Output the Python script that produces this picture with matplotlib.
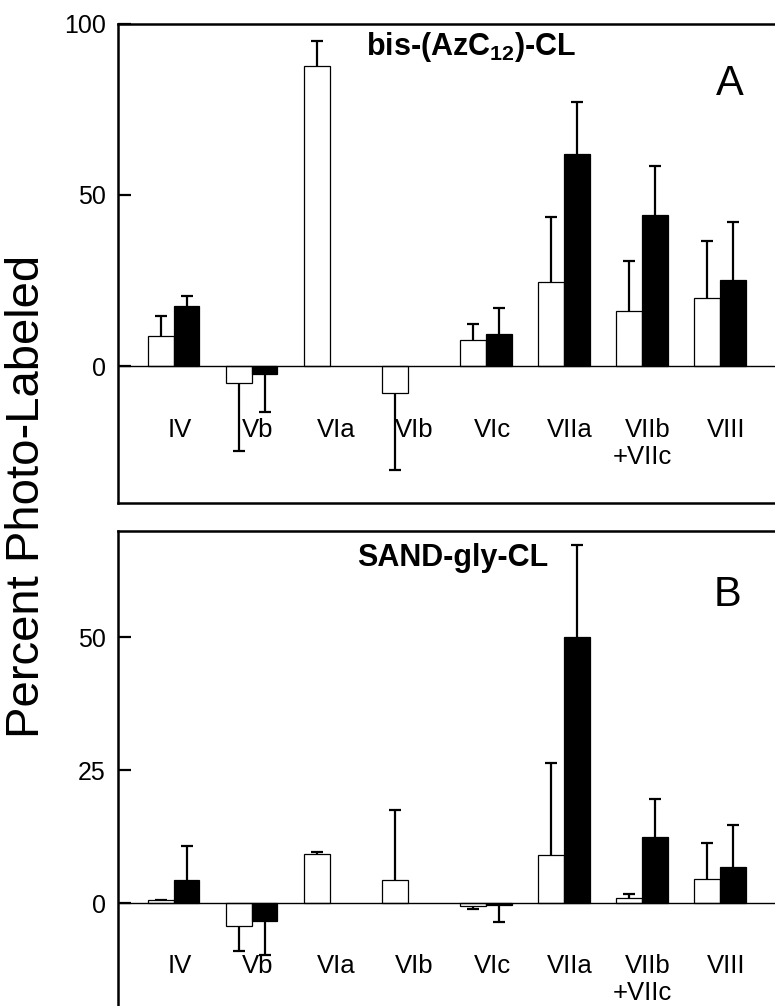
import numpy as np
import matplotlib
matplotlib.use('Agg')
from matplotlib import pyplot as plt

plt.rcParams['font.family'] = ['Liberation Sans', 'DejaVu Sans']
plt.rcParams['mathtext.fontset'] = 'custom'
plt.rcParams['mathtext.rm'] = 'Liberation Sans'
plt.rcParams['mathtext.bf'] = 'Liberation Sans:bold'

# subunits on the x axis
subunits = ['IV', 'Vb', 'VIa', 'VIb', 'VIc', 'VIIa', 'VIIb', 'VIII']
second_line = ['', '', '', '', '', '', '+VIIc', '']

# panel A: bis-(AzC12)-CL  (white / black bars, one-sided errors)
a_white = [8.8, -5.1, 87.6, -7.8, 7.6, 24.6, 16.1, 19.9]
a_white_err = [5.9, 19.7, 7.2, 22.5, 4.7, 19.0, 14.5, 16.7]
a_black = [17.5, -2.4, np.nan, np.nan, 9.3, 62.0, 44.1, 25.0]
a_black_err = [2.9, 10.9, np.nan, np.nan, 7.5, 15.1, 14.4, 17.1]

# panel B: SAND-gly-CL
b_white = [0.6, -4.25, 9.25, 4.4, -0.45, 9.1, 0.95, 4.6]
b_white_err = [0.0, 4.6, 0.45, 13.2, 0.6, 17.2, 0.75, 6.7]
b_black = [4.5, -3.3, np.nan, np.nan, -0.3, 50.0, 12.5, 6.9]
b_black_err = [6.25, 6.4, np.nan, np.nan, 3.1, 17.3, 7.2, 7.8]


def err_bars(ax, xpos, vals, errs):
    # error drawn only away from zero, cap only at the far end
    vals = np.asarray(vals, dtype=float)
    errs = np.asarray(errs, dtype=float)
    sign = np.where(vals < 0, -1.0, 1.0)
    ends = vals + sign * errs
    ax.vlines(xpos, vals, ends, color='black', linewidth=1.6, zorder=2)
    ax.plot(xpos, ends, ls='none', marker='_', markersize=8,
            markeredgewidth=1.6, color='black', zorder=2)


def draw_panel(ax, white, white_err, black, black_err, ylim, yticks,
               title, letter, title_xy, letter_xy, label_y):
    x = np.arange(1, len(subunits) + 1)
    w = 0.33
    ax.bar(x - w / 2, white, width=w, color='white', edgecolor='black',
           linewidth=0.9, zorder=3)
    ax.bar(x + w / 2, black, width=w, color='black', edgecolor='black',
           linewidth=0.9, zorder=3)
    err_bars(ax, x - w / 2, white, white_err)
    err_bars(ax, x + w / 2, black, black_err)
    ax.axhline(0, color='black', linewidth=1.0, zorder=4)

    ax.set_xlim(0.286, 8.75)
    ax.set_ylim(*ylim)
    ax.set_xticks([])
    ax.set_yticks(yticks)
    ax.tick_params(axis='y', direction='in', length=9, width=1.6,
                   labelsize=18, pad=9)
    for s in ax.spines.values():
        s.set_linewidth(1.8)

    for i, lab in enumerate(subunits):
        ax.text(x[i] + 0.08, label_y, lab, ha='center', va='baseline',
                fontsize=18.5)
        if second_line[i]:
            ax.annotate(second_line[i], xy=(x[i] + 0.08, label_y),
                        xytext=(-4, -19.5), textcoords='offset points',
                        ha='center', va='baseline', fontsize=18.5)

    ax.text(title_xy[0], title_xy[1], title, ha='center', va='baseline',
            fontsize=22, fontweight='bold')
    ax.text(letter_xy[0], letter_xy[1], letter, ha='center', va='baseline',
            fontsize=30)


fig = plt.figure(figsize=(7.75, 10.06), dpi=100)
ax_a = fig.add_axes([0.1523, 0.5, 0.852, 0.4766])
ax_b = fig.add_axes([0.1523, -0.004, 0.852, 0.4765])

draw_panel(ax_a, a_white, a_white_err, a_black, a_black_err,
           (-40, 100), [0, 50, 100],
           r'bis-(AzC$_{\mathbf{12}}$)-CL', 'A', (4.81, 90.7), (8.13, 79.1), -20.6)
draw_panel(ax_b, b_white, b_white_err, b_black, b_black_err,
           (-20, 70), [0, 25, 50],
           'SAND-gly-CL', 'B', (4.57, 63.4), (8.1, 55.9), -13.1)

fig.text(0.035, 0.507, 'Percent Photo-Labeled', rotation=90,
         ha='center', va='center', fontsize=34)

fig.savefig('out.png', dpi=100)
